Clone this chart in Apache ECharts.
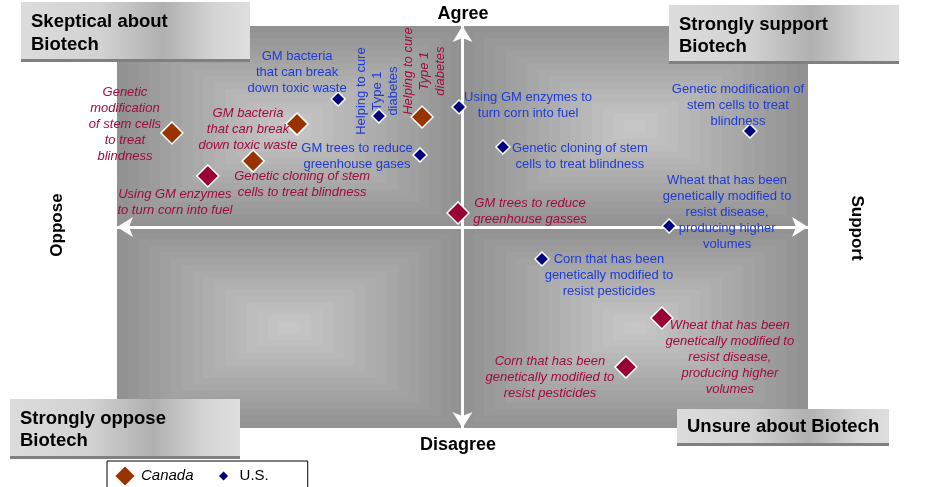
<!doctype html>
<html>
<head>
<meta charset="utf-8">
<title>Attitudes towards biotech - Canada vs U.S.</title>
<script src="https://cdn.jsdelivr.net/npm/echarts@6/dist/echarts.min.js"></script>
<style>
  html, body { margin: 0; padding: 0; background: #fff; }
  #chart { width: 933px; height: 487px; }
</style>
</head>
<body>
<div id="chart"></div>
<script>
// x: oppose (-) .. support (+), y: disagree (-) .. agree (+)
var canadaLabels = [
  'Genetic\nmodification\nof stem cells\nto treat\nblindness',
  'GM bacteria\nthat can break\ndown toxic waste',
  'Genetic cloning of stem\ncells to treat blindness',
  'Helping to cure\nType 1\ndiabetes',
  'Using GM enzymes\nto turn corn into fuel',
  'GM trees to reduce\ngreenhouse gasses',
  'Wheat that has been\ngenetically modified to\nresist disease,\nproducing higher\nvolumes',
  'Corn that has been\ngenetically modified to\nresist pesticides'
];
var canadaX = [-8.41, -4.79, -6.06, -1.17, -7.37, -0.13, 5.77, 4.73];
var canadaY = [4.68, 5.12, 3.28, 5.47, 2.54, 0.70, -4.53, -6.97];

var usLabels = [
  'GM bacteria\nthat can break\ndown toxic waste',
  'Helping to cure\nType 1\ndiabetes',
  'Using GM enzymes to\nturn corn into fuel',
  'GM trees to reduce\ngreenhouse gases',
  'Genetic cloning of stem\ncells to treat blindness',
  'Genetic modification of\nstem cells to treat\nblindness',
  'Wheat that has been\ngenetically modified to\nresist disease,\nproducing higher\nvolumes',
  'Corn that has been\ngenetically modified to\nresist pesticides'
];
var usX = [-3.60, -2.42, -0.10, -1.23, 1.17, 8.32, 5.98, 2.30];
var usY = [6.37, 5.52, 5.97, 3.58, 3.98, 4.78, 0.05, -1.59];

// label placement (screen px offset from the marker), rotated labels flagged
var canadaLabelOffset = [[-47, -9], [-49, 5], [49, 23], [2, -46], [-33, 26], [72, -2], [68, 39], [-76, 10]];
var canadaRotated = [false, false, false, true, false, false, false, false];
var canadaDark = [false, false, false, false, true, true, true, true];
var usLabelOffset = [[-41, -27], [-1, -25], [69, -2], [-63, 1], [77, 9], [-12, -26], [58, -14], [67, 16]];
var usRotated = [false, true, false, false, false, false, false, false];

var FONT = '"Liberation Sans", Arial, sans-serif';

function buildData(xs, ys, labels, offsets, rotated, dark) {
  return xs.map(function (x, i) {
    var off = offsets[i];
    var item = {
      value: [x, ys[i]],
      name: labels[i],
      label: {
        offset: rotated[i] ? [-off[1], off[0]] : off,
        rotate: rotated[i] ? 90 : 0
      }
    };
    if (dark && dark[i]) item.itemStyle = { color: '#990033' };
    return item;
  });
}

// rectangular "path" gradient per quadrant, drawn as nested bands
function mix(a, b, t) {
  var v = Math.round(a + (b - a) * t);
  return 'rgb(' + v + ',' + v + ',' + v + ')';
}
function quadrantBands(x0, y0, x1, y1) {
  var n = 16, out = [];
  var cx = (x0 + x1) / 2, cy = (y0 + y1) / 2;
  var hw = (x1 - x0) / 2, hh = (y1 - y0) / 2;
  for (var i = 0; i < n; i++) {
    var s = 1 - i / n;
    out.push([
      { coord: [cx - hw * s, cy - hh * s], itemStyle: { color: mix(146, 198, i / (n - 1)) } },
      { coord: [cx + hw * s, cy + hh * s] }
    ]);
  }
  return out;
}
var bands = [].concat(
  quadrantBands(-10, 0, 0, 10), quadrantBands(0, 0, 10, 10),
  quadrantBands(-10, -10, 0, 0), quadrantBands(0, -10, 10, 0)
);

function cornerBox(x, y, w, h, text, lh, ty) {
  return {
    type: 'group', x: x, y: y,
    children: [
      { type: 'rect', z: 100, shape: { x: 0, y: 0, width: w, height: h },
        style: { fill: {
          type: 'linear', x: 0, y: 0, x2: 1, y2: 0,
          colorStops: [
            { offset: 0, color: '#dcdcdc' },
            { offset: 0.35, color: '#d2d2d2' },
            { offset: 0.62, color: '#b0b0b0' },
            { offset: 0.85, color: '#d5d5d5' },
            { offset: 1, color: '#dedede' }
          ] } } },
      { type: 'rect', z: 101, shape: { x: 0, y: h - 3, width: w, height: 3 }, style: { fill: '#808080' } },
      { type: 'text', z: 102, x: 10, y: ty,
        style: { text: text, font: 'bold 18.5px ' + FONT, fill: '#000', lineHeight: lh, verticalAlign: 'top' } }
    ]
  };
}

var chart = echarts.init(document.getElementById('chart'));

chart.setOption({
  animation: false,
  backgroundColor: '#fff',
  grid: { left: 117, right: 125, top: 26, bottom: 59 },
  xAxis: {
    type: 'value', min: -10, max: 10, z: 5,
    axisLine: { onZero: true, symbol: ['arrow', 'arrow'], symbolSize: [15, 16],
                lineStyle: { color: '#fff', width: 3 } },
    axisTick: { show: false }, axisLabel: { show: false }, splitLine: { show: false }
  },
  yAxis: {
    type: 'value', min: -10, max: 10, z: 5,
    axisLine: { onZero: true, symbol: ['arrow', 'arrow'], symbolSize: [15, 16],
                lineStyle: { color: '#fff', width: 3 } },
    axisTick: { show: false }, axisLabel: { show: false }, splitLine: { show: false }
  },
  legend: {
    left: 107, top: 461,
    backgroundColor: '#fff', borderColor: '#000', borderWidth: 1,
    padding: [3, 39, 12, 6],
    itemGap: 18, itemWidth: 22, itemHeight: 22,
    textStyle: { fontFamily: FONT, fontSize: 15, color: '#000' },
    data: [
      { name: 'Canada', icon: 'diamond', textStyle: { fontStyle: 'italic' } },
      { name: 'U.S.', icon: 'path://M0,0M22,22M11,5L17,11L11,17L5,11Z' }
    ]
  },
  graphic: [
    { type: 'text', x: 463, y: 14, z: 100, style: { text: 'Agree', font: 'bold 18px ' + FONT, fill: '#000', align: 'center', verticalAlign: 'middle' } },
    { type: 'text', x: 458, y: 445, z: 100, style: { text: 'Disagree', font: 'bold 18px ' + FONT, fill: '#000', align: 'center', verticalAlign: 'middle' } },
    { type: 'text', x: 57, y: 225, rotation: Math.PI / 2, z: 100, style: { text: 'Oppose', font: 'bold 17px ' + FONT, fill: '#000', align: 'center', verticalAlign: 'middle' } },
    { type: 'text', x: 857, y: 228, rotation: -Math.PI / 2, z: 100, style: { text: 'Support', font: 'bold 17px ' + FONT, fill: '#000', align: 'center', verticalAlign: 'middle' } },
    cornerBox(21, 2, 229, 60, 'Skeptical about\nBiotech', 23, 8),
    cornerBox(669, 5, 230, 59, 'Strongly support\nBiotech', 22, 9),
    cornerBox(10, 399, 230, 60, 'Strongly oppose\nBiotech', 22, 9),
    cornerBox(677, 409, 212, 37, 'Unsure about Biotech', 22, 7)
  ],
  series: [
    {
      name: 'Canada', type: 'scatter', z: 10,
      symbol: 'diamond', symbolSize: 22,
      itemStyle: { color: '#993300', borderColor: '#fff', borderWidth: 1.5, opacity: 1 },
      label: {
        show: true, position: 'inside', formatter: '{b}',
        fontFamily: FONT, fontSize: 13, fontStyle: 'italic', lineHeight: 16,
        color: '#a00c3c', align: 'center', verticalAlign: 'middle'
      },
      data: buildData(canadaX, canadaY, canadaLabels, canadaLabelOffset, canadaRotated, canadaDark),
      markArea: { silent: true, z: 1, data: bands }
    },
    {
      name: 'U.S.', type: 'scatter', z: 11,
      symbol: 'diamond', symbolSize: 14,
      itemStyle: { color: '#000080', borderColor: '#fff', borderWidth: 1.5, opacity: 1 },
      label: {
        show: true, position: 'inside', formatter: '{b}',
        fontFamily: FONT, fontSize: 13, lineHeight: 16,
        color: '#1f3bd8', align: 'center', verticalAlign: 'middle'
      },
      data: buildData(usX, usY, usLabels, usLabelOffset, usRotated, null)
    }
  ]
});
</script>
</body>
</html>
